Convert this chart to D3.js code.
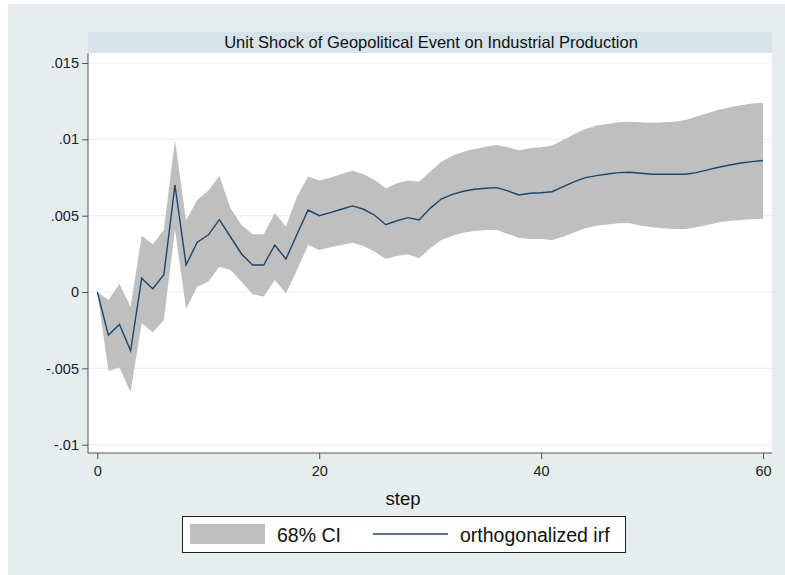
<!DOCTYPE html>
<html>
<head>
<meta charset="utf-8">
<script src="https://cdn.jsdelivr.net/npm/d3@7/dist/d3.min.js"></script>
<style>
  html, body { margin: 0; padding: 0; background: #ffffff; }
  svg { display: block; font-family: "Liberation Sans", Arial, sans-serif; }
</style>
</head>
<body>
<svg id="chart" width="785" height="575"></svg>
<script>
// ---- data ----
const steps = d3.range(0, 61);
const irf = [0, -0.00282, -0.00212, -0.00385, 0.0009, 0.00022, 0.00113, 0.00701, 0.00177, 0.00326,
  0.00373, 0.00474, 0.00362, 0.00249, 0.00177, 0.00177, 0.00308, 0.00216, 0.00378, 0.00537,
  0.0050, 0.0052, 0.00542, 0.00564, 0.00542, 0.00503, 0.00441, 0.00467, 0.00487, 0.00472,
  0.00548, 0.00609, 0.0064, 0.0066, 0.00673, 0.0068, 0.00684, 0.00662, 0.00636, 0.00647,
  0.0065, 0.00657, 0.0069, 0.00723, 0.00749, 0.00762, 0.00773, 0.00782, 0.00784, 0.00778,
  0.00771, 0.00771, 0.00771, 0.00771, 0.00782, 0.0080, 0.00817, 0.00832, 0.00845, 0.00854, 0.00861];
const ciUpper = [0, -0.00052, 0.00052, -0.00096, 0.00369, 0.00313, 0.00406, 0.00996, 0.00468, 0.00603,
  0.00664, 0.0076, 0.00548, 0.00439, 0.00378, 0.00379, 0.00518, 0.00428, 0.00625, 0.00756,
  0.0073, 0.00749, 0.00773, 0.00795, 0.00771, 0.00734, 0.0068, 0.00712, 0.0073, 0.00723,
  0.00788, 0.00854, 0.00893, 0.00919, 0.00937, 0.00952, 0.00963, 0.00948, 0.00928, 0.00942,
  0.00948, 0.00959, 0.00996, 0.01035, 0.01068, 0.0109, 0.01101, 0.01112, 0.01116, 0.01112,
  0.01109, 0.01112, 0.01116, 0.01127, 0.01149, 0.01171, 0.01193, 0.0121, 0.01223, 0.01234, 0.0124];
const ciLower = [0, -0.00518, -0.00494, -0.00657, -0.00205, -0.00264, -0.00183, 0.0041, -0.00111, 0.00035,
  0.00068, 0.00166, 0.00144, 0.00068, -0.00015, -0.0003, 0.00079, -0.00009, 0.00144, 0.00308,
  0.00275, 0.00293, 0.00308, 0.00323, 0.00301, 0.00264, 0.00216, 0.00236, 0.00247, 0.00221,
  0.00286, 0.00341, 0.00369, 0.00389, 0.004, 0.00406, 0.00406, 0.0038, 0.00355, 0.00347,
  0.00347, 0.00341, 0.00362, 0.00391, 0.00417, 0.00434, 0.00443, 0.0045, 0.0045, 0.00434,
  0.00424, 0.00417, 0.00413, 0.00413, 0.00424, 0.00439, 0.00457, 0.00465, 0.00472, 0.00476, 0.0048];
const yTicks = [-0.01, -0.005, 0, 0.005, 0.01, 0.015];
const yTickLabels = ["-.01", "-.005", "0", ".005", ".01", ".015"];
const xTicks = [0, 20, 40, 60];
const titleText = "Unit Shock of Geopolitical Event on Industrial Production";
const xTitle = "step";
const legendLabels = ["68% CI", "orthogonalized irf"];

// ---- layout ----
const svg = d3.select("#chart");
const plot = { left: 88, right: 772, top: 53, bottom: 453 };
const x = d3.scaleLinear().domain([0, 60]).range([97.3, 763]);
const y = d3.scaleLinear().domain([-0.01, 0.015]).range([444.7, 63]);
const FONT = "Liberation Sans, Arial, sans-serif";

// background
svg.append("rect").attr("x", 8).attr("y", 4).attr("width", 777).attr("height", 571).attr("fill", "#e5edef");
// plot region
svg.append("rect").attr("x", plot.left).attr("y", plot.top)
  .attr("width", plot.right - plot.left).attr("height", plot.bottom - plot.top).attr("fill", "#ffffff");
// title strip
svg.append("rect").attr("x", plot.left).attr("y", 32).attr("width", plot.right - plot.left).attr("height", 21)
  .attr("fill", "#d6e3ea");
svg.append("text").attr("x", (plot.left + plot.right) / 2 + 1).attr("y", 48)
  .attr("text-anchor", "middle").attr("font-size", 16.5).attr("fill", "#111").text(titleText);

// gridlines
svg.append("g").selectAll("line").data(yTicks).join("line")
  .attr("x1", plot.left + 1).attr("x2", plot.right)
  .attr("y1", d => y(d)).attr("y2", d => y(d))
  .attr("stroke", "#eaf1f3").attr("stroke-width", 1.2);

// CI band
const data = steps.map((s, i) => ({ s, v: irf[i], lo: ciLower[i], hi: ciUpper[i] }));
svg.append("path").datum(data)
  .attr("d", d3.area().x(d => x(d.s)).y0(d => y(d.lo)).y1(d => y(d.hi)))
  .attr("fill", "#bfbfbf");
// IRF line
svg.append("path").datum(data)
  .attr("d", d3.line().x(d => x(d.s)).y(d => y(d.v)))
  .attr("fill", "none").attr("stroke", "#1a476f").attr("stroke-width", 1.4);

// y axis
const yAxis = d3.axisLeft(y).tickValues(yTicks).tickFormat((d, i) => yTickLabels[i]).tickSize(6).tickPadding(3);
const gy = svg.append("g").attr("transform", `translate(${plot.left},0)`).call(yAxis);
gy.select(".domain").attr("d", `M0,${plot.top}V${plot.bottom}`).attr("stroke", "#555");
gy.selectAll(".tick line").attr("stroke", "#555");
gy.selectAll(".tick text").attr("font-size", 14.5).attr("fill", "#222").attr("font-family", FONT);

// x axis
const xAxis = d3.axisBottom(x).tickValues(xTicks).tickSize(6).tickPadding(7);
const gx = svg.append("g").attr("transform", `translate(0,${plot.bottom})`).call(xAxis);
gx.select(".domain").attr("d", `M${plot.left},0H${plot.right}`).attr("stroke", "#555");
gx.selectAll(".tick line").attr("stroke", "#555");
gx.selectAll(".tick text").attr("font-size", 14.5).attr("fill", "#222").attr("font-family", FONT);

// x title
svg.append("text").attr("x", 403).attr("y", 505).attr("text-anchor", "middle")
  .attr("font-size", 18.5).attr("fill", "#111").text(xTitle);

// legend
const lg = svg.append("g");
lg.append("rect").attr("x", 182.5).attr("y", 516.5).attr("width", 443).attr("height", 36)
  .attr("fill", "#ffffff").attr("stroke", "#222").attr("stroke-width", 1);
lg.append("rect").attr("x", 190).attr("y", 524).attr("width", 75).attr("height", 20).attr("fill", "#bfbfbf");
lg.append("text").attr("x", 277).attr("y", 542).attr("font-size", 19.5).attr("fill", "#111").text(legendLabels[0]);
lg.append("line").attr("x1", 373).attr("x2", 448).attr("y1", 534).attr("y2", 534)
  .attr("stroke", "#1a476f").attr("stroke-width", 1.4);
lg.append("text").attr("x", 460).attr("y", 542).attr("font-size", 19.5).attr("fill", "#111").text(legendLabels[1]);
</script>
</body>
</html>
